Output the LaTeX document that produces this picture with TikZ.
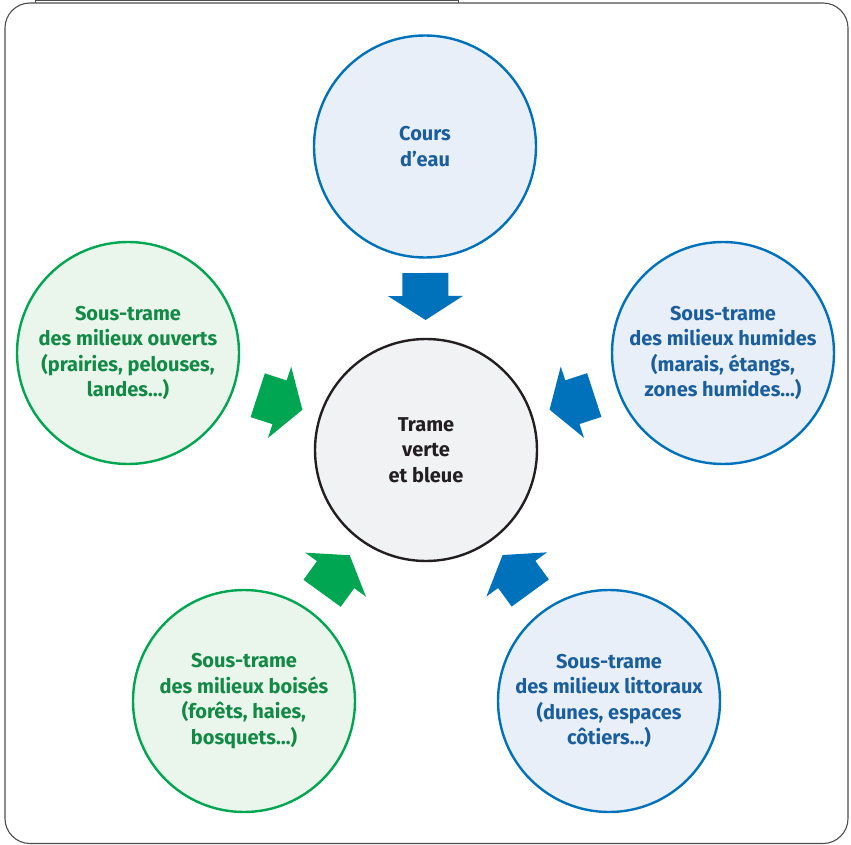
\documentclass[tikz,border=0pt]{standalone}
\usepackage{fontspec}
\setmainfont{Fira Sans}
\usetikzlibrary{calc}
\definecolor{bstroke}{HTML}{0072BC}
\definecolor{bfill}{HTML}{E8EFF8}
\definecolor{btext}{HTML}{1B5E9E}
\definecolor{gstroke}{HTML}{00A651}
\definecolor{gfill}{HTML}{EAF5EC}
\definecolor{gtext}{HTML}{128A45}
\definecolor{cfill}{HTML}{F1F2F4}
\definecolor{cstroke}{HTML}{231F20}
\definecolor{framecol}{HTML}{4D4D4D}
\begin{document}
\begin{tikzpicture}[x=1pt,y=-1pt,
 bubble/.style={circle,minimum size=222pt,inner sep=0pt,line width=2.4pt,align=center,font=\fontsize{20}{25.5}\selectfont\bfseries},
 bluebub/.style={bubble,draw=bstroke,fill=bfill,text=btext},
 greenbub/.style={bubble,draw=gstroke,fill=gfill,text=gtext},
 centerbub/.style={bubble,draw=cstroke,fill=cfill,text=cstroke},
 blockarrow/.pic={\fill[#1] (0,0) -- (-24,37.5) -- (-24,23) -- (-47,23) -- (-47,-23) -- (-24,-23) -- (-24,-37.5) -- cycle;}
]
\useasboundingbox (0,0) rectangle (851,845);
\draw[framecol, line width=1.1pt, rounded corners=25pt] (5,3) rectangle (848,843.5);
\draw[framecol, line width=0.6pt] (35,3) -- (35,0.4) -- (458,0.4) -- (458,3);

\node[bluebub] (eau) at (425,146.5) {Cours\\d’eau};
\node[centerbub] (tvb) at (426,450) {Trame\\verte\\et bleue};
\node[greenbub] (ouv) at (128,353) {Sous-trame\\des milieux ouverts\\(prairies, pelouses,\\landes…)};
\node[bluebub] (hum) at (723,353) {Sous-trame\\des milieux humides\\(marais, étangs,\\zones humides…)};
\node[greenbub] (bois) at (244,701) {Sous-trame\\des milieux boisés\\(forêts, haies,\\bosquets…)};
\node[bluebub] (lit) at (609,701) {Sous-trame\\des milieux littoraux\\(dunes, espaces\\côtiers…)};

\foreach \src/\col in {eau/bstroke, ouv/gstroke, hum/bstroke, bois/gstroke, lit/bstroke}
  \path let \p1=($(tvb.center)-(\src.center)$), \n1={atan2(\y1,\x1)} in
    ($(tvb.center)!130pt!(\src.center)$) pic[rotate=\n1] {blockarrow=\col};
\end{tikzpicture}
\end{document}
